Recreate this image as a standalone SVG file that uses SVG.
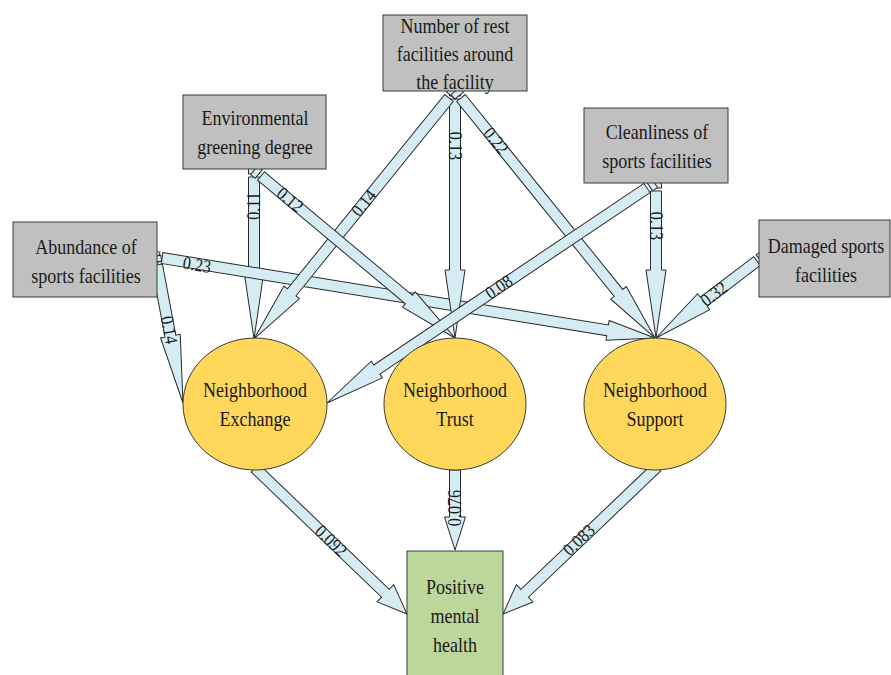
<svg xmlns="http://www.w3.org/2000/svg" width="891" height="675" viewBox="0 0 891 675">
<style>
.box{fill:#c0c0c0;stroke:#3a3a3a;stroke-width:1}
.ell{fill:#ffd75a;stroke:#3a3a3a;stroke-width:1}
.grn{fill:#bdd69c;stroke:#3a3a3a;stroke-width:1}
.arr path{fill:#d5edf2;stroke:#2a2a2a;stroke-width:1;stroke-linejoin:miter}
.nt{font-family:"Liberation Serif","Times New Roman",serif;font-size:22px;fill:#1a1a1a;text-anchor:middle}
.lb{font-family:"Liberation Serif","Times New Roman",serif;font-size:18px;fill:#1a1a1a;text-anchor:middle;dominant-baseline:central}
</style>
<rect width="891" height="675" fill="#ffffff"/>
<g id="connectors" class="arr">
  <g id="a-env-exch" transform="translate(254,177) rotate(90)"><path d="M0,-5.5H94V-10L162,0L94,10V5.5H0Z M-9,-5.5H-3V5.5H-9Z"/></g>
  <g id="a-abund-supp" transform="translate(162,258) rotate(9.22)"><path d="M0,-5.5H451.4V-10L499.4,0L451.4,10V5.5H0Z M-9,-5.5H-3V5.5H-9Z"/></g>
  <g id="a-rest-trust" transform="translate(455,99) rotate(90)"><path d="M0,-5.5H171V-10L239,0L171,10V5.5H0Z M-9,-5.5H-3V5.5H-9Z"/></g>
  <g id="a-clean-supp" transform="translate(656,191) rotate(90)"><path d="M0,-5.5H79V-10L147,0L79,10V5.5H0Z M-9,-5.5H-3V5.5H-9Z"/></g>
  <g id="a-rest-exch" transform="translate(449,98) rotate(128.98)"><path d="M0,-5.5H250V-10L310,0L250,10V5.5H0Z M-9,-5.5H-3V5.5H-9Z"/></g>
  <g id="a-env-trust" transform="translate(261,176) rotate(39.87)"><path d="M0,-5.5H192.7V-10L252.7,0L192.7,10V5.5H0Z M-9,-5.5H-3V5.5H-9Z"/></g>
  <g id="a-rest-supp" transform="translate(461,98) rotate(51.05)"><path d="M0,-5.5H250.6V-10L308.6,0L250.6,10V5.5H0Z M-9,-5.5H-3V5.5H-9Z"/></g>
  <g id="a-clean-exch" transform="translate(647,188) rotate(146.10)"><path d="M0,-5.5H325.5V-10L385.5,0L325.5,10V5.5H0Z M-9,-5.5H-3V5.5H-9Z"/></g>
  <g id="a-dam-supp" transform="translate(757,261) rotate(142.68)"><path d="M0,-5.5H67V-10L127,0L67,10V5.5H0Z M-9,-5.5H-3V5.5H-9Z"/></g>
  <g id="a-abund-exch" transform="translate(157,265) rotate(79.33)"><path d="M0,-5.5H72.4V-10L140.4,0L72.4,10V5.5H0Z M-9,-5.5H-3V5.5H-9Z"/></g>
  <g id="a-exch-pos" transform="translate(255,468) rotate(43.85)"><path d="M0,-5.5H180.8V-12L210.8,0L180.8,12V5.5H0Z"/></g>
  <g id="a-trust-pos" transform="translate(455,470) rotate(90)"><path d="M0,-5.5H47V-10.5L80,0L47,10.5V5.5H0Z"/></g>
  <g id="a-supp-pos" transform="translate(657,467) rotate(136.34)"><path d="M0,-5.5H182.9V-12L212.9,0L182.9,12V5.5H0Z"/></g>
  <g id="labels">
    <text class="lb" transform="translate(364,203) rotate(-51.02) scale(0.9,1)">0.14</text>
    <text class="lb" transform="translate(455,146) rotate(90) scale(0.9,1)">0.13</text>
    <text class="lb" transform="translate(496,141) rotate(51.05) scale(0.9,1)">0.22</text>
    <text class="lb" transform="translate(254,206) rotate(-90) scale(0.9,1)">0.11</text>
    <text class="lb" transform="translate(290,200) rotate(39.87) scale(0.9,1)">0.12</text>
    <text class="lb" transform="translate(197,265) rotate(9.22) scale(0.9,1)">0.23</text>
    <text class="lb" transform="translate(169,330) rotate(79.33) scale(0.9,1)">0.14</text>
    <text class="lb" transform="translate(499,287) rotate(-33.9) scale(0.9,1)">0.08</text>
    <text class="lb" transform="translate(656,226) rotate(90) scale(0.9,1)">0.13</text>
    <text class="lb" transform="translate(714,294) rotate(-37.32) scale(0.9,1)">0.32</text>
    <text class="lb" transform="translate(331,541) rotate(43.85) scale(0.9,1)">0.092</text>
    <text class="lb" transform="translate(455,508) rotate(-90) scale(0.9,1)">0.076</text>
    <text class="lb" transform="translate(579,540) rotate(-43.66) scale(0.9,1)">0.083</text>
  </g>
</g>
<g id="rest">
  <rect class="box" x="383" y="15" width="144" height="76"/>
  <text class="nt" transform="translate(455,33) scale(0.82,1)">Number of rest</text>
  <text class="nt" transform="translate(455,61) scale(0.82,1)">facilities around</text>
  <text class="nt" transform="translate(455,89) scale(0.82,1)">the facility</text>
</g>
<g id="env">
  <rect class="box" x="183" y="95" width="143" height="74"/>
  <text class="nt" transform="translate(255,125) scale(0.82,1)">Environmental</text>
  <text class="nt" transform="translate(255,154) scale(0.82,1)">greening degree</text>
</g>
<g id="abund">
  <rect class="box" x="13" y="222" width="144" height="75"/>
  <text class="nt" transform="translate(86,254) scale(0.82,1)">Abundance of</text>
  <text class="nt" transform="translate(86,283) scale(0.82,1)">sports facilities</text>
</g>
<g id="clean">
  <rect class="box" x="584" y="108" width="144" height="75"/>
  <text class="nt" transform="translate(657,139) scale(0.82,1)">Cleanliness of</text>
  <text class="nt" transform="translate(657,168) scale(0.82,1)">sports facilities</text>
</g>
<g id="damaged">
  <rect class="box" x="759" y="220" width="131" height="77"/>
  <text class="nt" transform="translate(826,253) scale(0.82,1)">Damaged sports</text>
  <text class="nt" transform="translate(826,282) scale(0.82,1)">facilities</text>
</g>
<g id="exchange">
  <ellipse class="ell" cx="255" cy="404" rx="72" ry="66"/>
  <text class="nt" transform="translate(255,397) scale(0.82,1)">Neighborhood</text>
  <text class="nt" transform="translate(255,426) scale(0.82,1)">Exchange</text>
</g>
<g id="trust">
  <ellipse class="ell" cx="455" cy="404" rx="71" ry="66"/>
  <text class="nt" transform="translate(455,397) scale(0.82,1)">Neighborhood</text>
  <text class="nt" transform="translate(455,426) scale(0.82,1)">Trust</text>
</g>
<g id="support">
  <ellipse class="ell" cx="655" cy="404" rx="71" ry="66"/>
  <text class="nt" transform="translate(655,397) scale(0.82,1)">Neighborhood</text>
  <text class="nt" transform="translate(655,426) scale(0.82,1)">Support</text>
</g>
<g id="positive">
  <rect class="grn" x="407" y="551" width="96" height="130"/>
  <text class="nt" transform="translate(455,594) scale(0.82,1)">Positive</text>
  <text class="nt" transform="translate(455,623) scale(0.82,1)">mental</text>
  <text class="nt" transform="translate(455,652) scale(0.82,1)">health</text>
</g>
</svg>
